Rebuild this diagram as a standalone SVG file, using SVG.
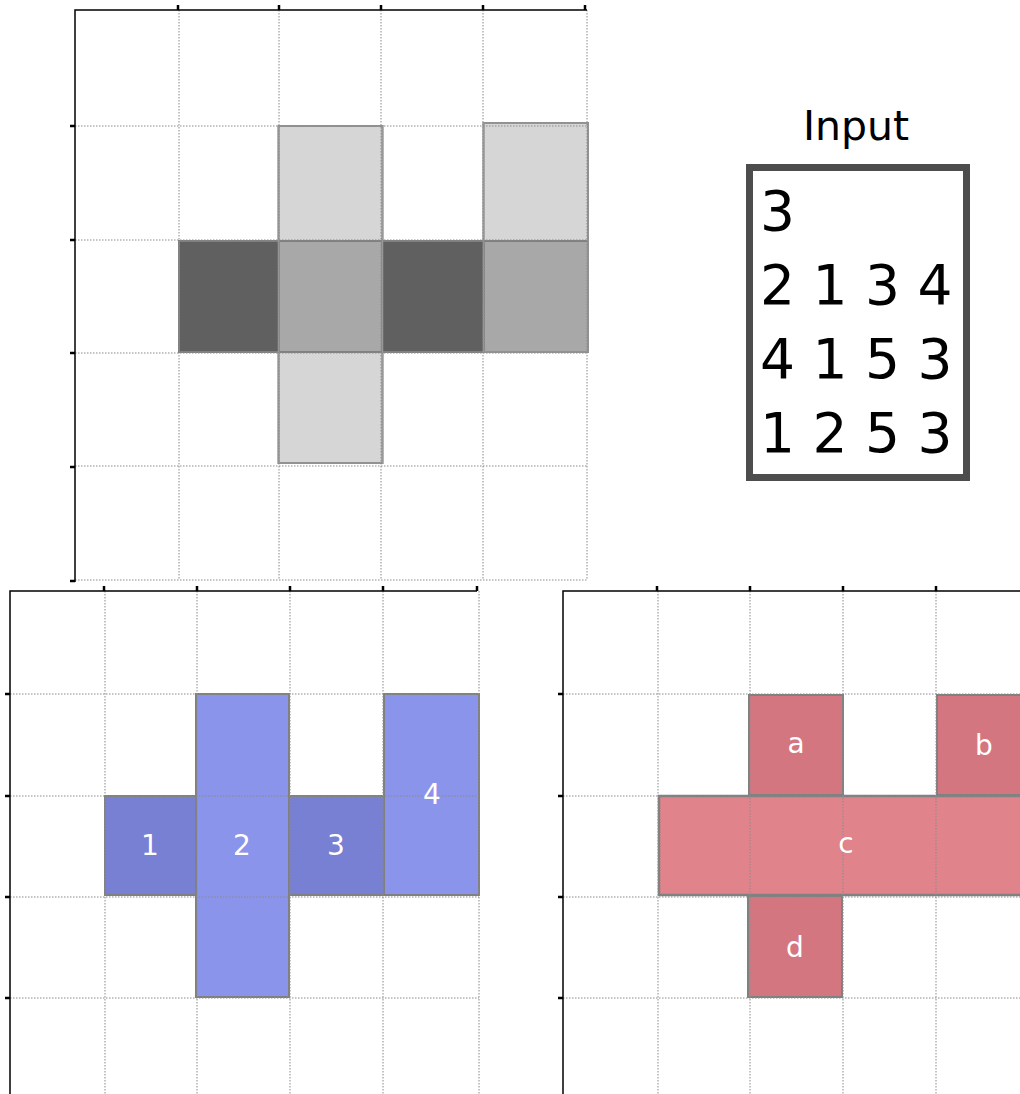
<svg xmlns="http://www.w3.org/2000/svg" width="1020" height="1094" viewBox="0 0 1020 1094">
<style>
.spine{stroke:#000;stroke-width:1.5;fill:none}
.tick{stroke:#000;stroke-width:2.5}
.grid{stroke:#8a8a8a;stroke-width:1;stroke-dasharray:1.5,1.5;fill:none}
.edge{stroke:#808080;stroke-width:2}
.lbl{font-family:"DejaVu Sans",sans-serif;font-size:28px;fill:#fff;text-anchor:middle}
.inp{font-family:"DejaVu Sans",sans-serif;fill:#000}
</style>
<rect width="1020" height="1094" fill="#fff"/>

<!-- Top plot -->
<g id="top-plot">
  <rect x="278.5" y="126" width="104" height="337" fill="#d6d6d6" class="edge"/>
  <rect x="483.5" y="123" width="104.5" height="229" fill="#d6d6d6" class="edge"/>
  <rect x="179" y="241" width="409" height="111" fill="#606060" class="edge"/>
  <rect x="279.5" y="242" width="102" height="109" fill="#a8a8a8"/>
  <rect x="484.5" y="242" width="102.5" height="109" fill="#a8a8a8"/>
  <rect x="278.5" y="126" width="104" height="337" fill="none" stroke="#989898" stroke-width="1.5"/>
  <rect x="483.5" y="123" width="104.5" height="229" fill="none" stroke="#989898" stroke-width="1.5"/>
  <g class="grid">
    <path d="M179 10V580M279 10V580M381 10V580M483 10V580M587 10V580"/>
    <path d="M75 126H587M75 240H587M75 353H587M75 466H587M75 580H587"/>
  </g>
  <path class="spine" d="M75 582V10H587"/>
  <path class="tick" d="M178 5V10M279 5V10M381 5V10M483 5V10M585 5V10"/>
  <path class="tick" d="M70 126H75M70 240H75M70 353H75M70 467H75M70 581H75"/>
</g>

<!-- Input box -->
<g id="input">
  <text class="inp" x="856" y="140" font-size="41" text-anchor="middle">Input</text>
  <rect x="749.5" y="167.5" width="217" height="310" fill="#fff" stroke="#4d4d4d" stroke-width="7"/>
  <text class="inp" font-size="55" x="760" y="230">3</text>
  <text class="inp" font-size="55" x="760" y="304">2 1 3 4</text>
  <text class="inp" font-size="55" x="760" y="378">4 1 5 3</text>
  <text class="inp" font-size="55" x="760" y="452">1 2 5 3</text>
</g>

<!-- Bottom-left plot -->
<g id="blue-plot">
  <rect x="105" y="796" width="92" height="99" fill="#7880d4" class="edge"/>
  <rect x="289" y="796" width="95" height="99" fill="#7880d4" class="edge"/>
  <rect x="196" y="694" width="93" height="303" fill="#8a94ea" class="edge"/>
  <rect x="384" y="694" width="95" height="201" fill="#8a94ea" class="edge"/>
  <g class="grid">
    <path d="M105 591V1094M197 591V1094M290 591V1094M383 591V1094M479 591V1094"/>
    <path d="M10 694H479M10 796H479M10 897H479M10 998H479"/>
  </g>
  <path class="spine" d="M10 1094V591H477"/>
  <path class="tick" d="M104 586V591M197 586V591M290 586V591M383 586V591M477 586V591"/>
  <path class="tick" d="M5 694H10M5 796H10M5 897H10M5 998H10"/>
  <text class="lbl" x="150" y="855">1</text>
  <text class="lbl" x="242" y="855">2</text>
  <text class="lbl" x="336" y="855">3</text>
  <text class="lbl" x="432" y="804">4</text>
</g>

<!-- Bottom-right plot -->
<g id="red-plot">
  <rect x="749" y="695" width="94" height="100" fill="#d4767f" class="edge"/>
  <rect x="937" y="695" width="90" height="100" fill="#d4767f" class="edge"/>
  <rect x="748" y="896" width="94" height="101" fill="#d4767f" class="edge"/>
  <rect x="659" y="796" width="370" height="99" fill="#e0838b" stroke="#808080" stroke-width="2.5"/>
  <g class="grid">
    <path d="M658 591V1094M750 591V1094M843 591V1094M936 591V1094"/>
    <path d="M563 694H1020M563 796H1020M563 897H1020M563 998H1020"/>
  </g>
  <path class="spine" d="M563 1094V591H1020"/>
  <path class="tick" d="M657 586V591M750 586V591M843 586V591M936 586V591"/>
  <path class="tick" d="M558 694H563M558 796H563M558 897H563M558 998H563"/>
  <text class="lbl" x="796" y="753">a</text>
  <text class="lbl" x="984" y="755">b</text>
  <text class="lbl" x="846" y="853">c</text>
  <text class="lbl" x="795" y="957">d</text>
</g>
</svg>
